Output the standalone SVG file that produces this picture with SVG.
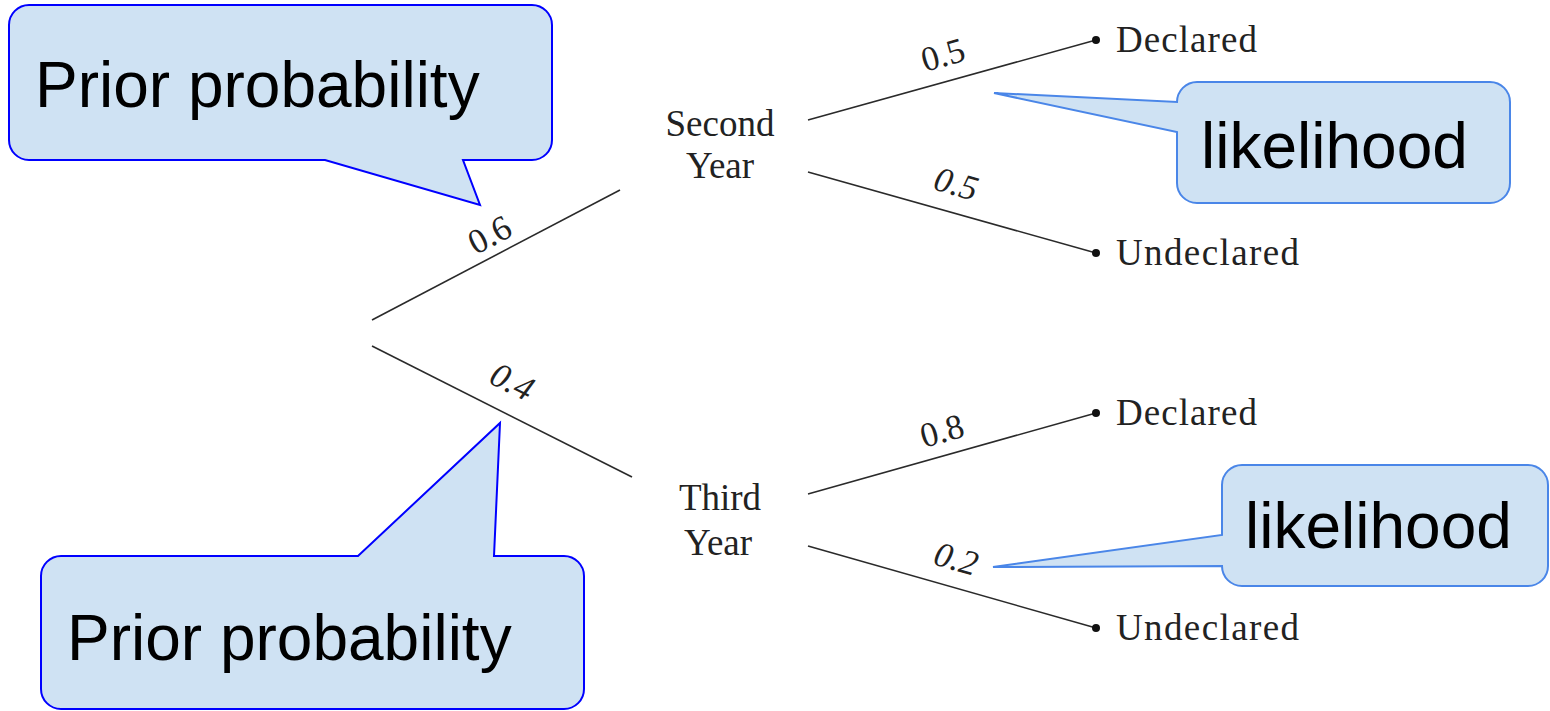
<svg xmlns="http://www.w3.org/2000/svg" width="1550" height="711" viewBox="0 0 1550 711">
<style>
.edge{stroke:#2a2a2a;stroke-width:1.6;fill:none}
.node{font-family:"Liberation Serif",serif;font-size:37px;fill:#222}
.prob{font-family:"Liberation Serif",serif;font-size:35px;fill:#222;text-anchor:middle}
.it{font-style:italic}
.call1{fill:#cfe2f3;stroke:#0000ff;stroke-width:2}
.call2{fill:#cfe2f3;stroke:#4a86e8;stroke-width:2}
.ctext{font-family:"Liberation Sans",Arial,sans-serif;font-size:64px;fill:#000}
.dot{fill:#111}
</style>
<rect width="1550" height="711" fill="#fff"/>
<g id="connectors">
<line class="edge" x1="372" y1="320" x2="620" y2="190"/>
<line class="edge" x1="372" y1="346" x2="632" y2="477"/>
<line class="edge" x1="808" y1="120" x2="1096" y2="40"/>
<line class="edge" x1="808" y1="172" x2="1096" y2="253"/>
<line class="edge" x1="808" y1="494" x2="1096" y2="413"/>
<line class="edge" x1="808" y1="546" x2="1096" y2="628"/>
<text class="prob" transform="translate(495,245) rotate(-27.7)">0.6</text>
<text class="prob it" transform="translate(507,392) rotate(26.7)">0.4</text>
<text class="prob" transform="translate(946,66) rotate(-15.6)">0.5</text>
<text class="prob it" transform="translate(953,195) rotate(15.8)">0.5</text>
<text class="prob" transform="translate(945,442) rotate(-15.6)">0.8</text>
<text class="prob it" transform="translate(953,570) rotate(15.8)">0.2</text>
</g>
<g id="second-year"><text class="node" x="720" y="136" text-anchor="middle">Second</text><text class="node" x="720" y="178" text-anchor="middle">Year</text></g>
<g id="third-year"><text class="node" x="720" y="510" text-anchor="middle">Third</text><text class="node" x="718" y="555" text-anchor="middle">Year</text></g>
<g id="declared-1"><circle class="dot" cx="1096" cy="40" r="4"/><text class="node" x="1116" y="52" textLength="141">Declared</text></g>
<g id="undeclared-1"><circle class="dot" cx="1096" cy="253" r="4"/><text class="node" x="1116" y="265" textLength="183">Undeclared</text></g>
<g id="declared-2"><circle class="dot" cx="1096" cy="413" r="4"/><text class="node" x="1116" y="425" textLength="141">Declared</text></g>
<g id="undeclared-2"><circle class="dot" cx="1096" cy="628" r="4"/><text class="node" x="1116" y="640" textLength="183">Undeclared</text></g>
<g id="callout-prior-top">
<path class="call1" d="M29,5 H532 A20,20 0 0 1 552,25 V140 A20,20 0 0 1 532,160 H463 L480,205 L325,160 H29 A20,20 0 0 1 9,140 V25 A20,20 0 0 1 29,5 Z"/>
<text class="ctext" x="35" y="107">Prior probability</text>
</g>
<g id="callout-prior-bottom">
<path class="call1" d="M61,556 H358 L500,423 L494,556 H564 A20,20 0 0 1 584,576 V689 A20,20 0 0 1 564,709 H61 A20,20 0 0 1 41,689 V576 A20,20 0 0 1 61,556 Z"/>
<text class="ctext" x="67" y="660">Prior probability</text>
</g>
<g id="callout-likelihood-top">
<path class="call2" d="M1197,82 H1490 A20,20 0 0 1 1510,102 V183 A20,20 0 0 1 1490,203 H1197 A20,20 0 0 1 1177,183 V132 L994,93 L1177,102 A20,20 0 0 1 1197,82 Z"/>
<text class="ctext" x="1201" y="168">likelihood</text>
</g>
<g id="callout-likelihood-bottom">
<path class="call2" d="M1242,465 H1528 A20,20 0 0 1 1548,485 V566 A20,20 0 0 1 1528,586 H1242 A20,20 0 0 1 1222,566 L993,567 L1222,535 V485 A20,20 0 0 1 1242,465 Z"/>
<text class="ctext" x="1245" y="548">likelihood</text>
</g>
</svg>
